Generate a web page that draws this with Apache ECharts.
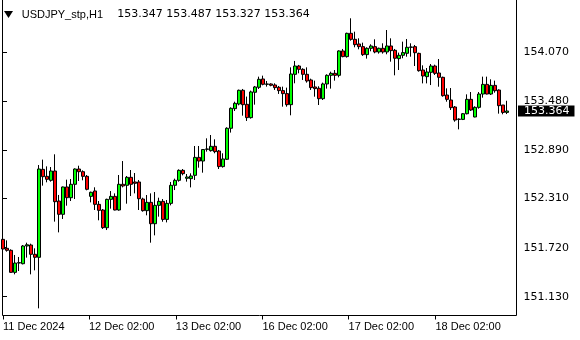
<!DOCTYPE html>
<html><head><meta charset="utf-8">
<script src="https://cdn.jsdelivr.net/npm/echarts@6/dist/echarts.min.js"></script>
<style>html,body{margin:0;padding:0;background:#fff}#c{width:580px;height:340px}</style>
</head><body><div id="c"></div>
<script>
const opens=[151.820,151.712,151.688,151.423,151.535,151.527,151.740,151.752,151.640,151.604,
152.662,152.578,152.530,152.642,152.281,152.121,152.450,152.321,152.482,152.666,
152.634,152.578,152.337,152.402,152.241,152.173,151.960,152.301,152.337,152.173,
152.482,152.470,152.566,152.510,152.510,152.305,152.165,152.265,152.008,152.229,
152.277,152.060,152.253,152.470,152.530,152.650,152.554,152.550,152.590,152.806,
152.762,152.903,152.887,152.939,152.883,152.695,152.783,153.156,153.392,153.448,
153.613,153.444,153.284,153.589,153.649,153.749,153.685,153.689,153.677,153.649,
153.609,153.573,153.440,153.805,153.905,153.865,153.805,153.737,153.653,153.637,
153.512,153.689,153.793,153.817,153.793,154.086,154.018,154.298,154.226,154.170,
154.138,154.042,154.118,154.138,154.074,154.118,154.074,154.146,154.094,153.994,
154.034,154.058,154.130,154.138,154.057,153.857,153.777,153.829,153.905,153.821,
153.769,153.556,153.496,153.412,153.263,153.263,153.331,153.504,153.292,153.408,
153.568,153.684,153.568,153.672,153.616,153.436,153.347];
const highs=[151.864,151.808,151.700,151.632,151.608,151.752,151.780,151.768,151.712,152.714,
152.779,152.698,152.690,152.843,152.354,152.455,152.538,152.546,152.674,152.706,
152.650,152.594,152.394,152.446,152.281,152.185,152.309,152.401,152.373,152.594,
152.762,152.582,152.654,152.618,152.534,152.321,152.353,152.373,152.389,152.321,
152.305,152.293,152.510,152.550,152.662,152.666,152.606,152.614,152.943,152.943,
152.903,153.035,153.075,153.023,152.895,152.855,153.168,153.408,153.476,153.621,
153.629,153.537,153.609,153.665,153.777,153.789,153.725,153.697,153.697,153.665,
153.657,153.645,153.889,153.966,153.918,153.878,153.889,153.753,153.729,153.661,
153.705,153.805,153.837,153.857,154.094,154.110,154.306,154.479,154.318,154.238,
154.186,154.130,154.166,154.226,154.126,154.178,154.338,154.238,154.110,154.066,
154.198,154.230,154.178,154.158,154.065,153.913,153.881,153.929,153.921,153.989,
153.777,153.636,153.640,153.424,153.275,153.339,153.564,153.592,153.420,153.592,
153.777,153.777,153.745,153.729,153.624,153.436,153.487];
const lows=[151.680,151.672,151.419,151.399,151.439,151.519,151.600,151.399,151.447,150.990,
152.466,152.506,152.514,152.033,151.904,152.065,152.225,152.281,152.305,152.522,
152.530,152.410,152.265,152.173,152.049,151.945,151.932,152.189,152.169,152.165,
152.445,152.249,152.341,152.373,152.173,152.153,152.109,151.780,151.868,152.093,
152.032,152.024,152.229,152.413,152.514,152.590,152.514,152.445,152.534,152.682,
152.622,152.875,152.875,152.855,152.666,152.683,152.775,153.104,153.364,153.432,
153.308,153.244,153.272,153.440,153.629,153.673,153.657,153.661,153.617,153.569,
153.416,153.416,153.312,153.697,153.817,153.737,153.705,153.617,153.536,153.436,
153.496,153.633,153.633,153.729,153.769,154.010,154.006,154.210,154.130,154.106,
154.026,153.994,154.082,154.058,154.054,154.054,154.046,153.957,153.793,153.857,
153.998,154.017,154.017,153.905,153.837,153.696,153.696,153.676,153.797,153.656,
153.536,153.476,153.376,153.235,153.143,153.255,153.323,153.364,153.288,153.392,
153.524,153.564,153.556,153.584,153.332,153.324,153.327];
const closes=[151.704,151.688,151.423,151.535,151.540,151.740,151.755,151.640,151.604,152.666,
152.574,152.542,152.642,152.273,152.121,152.450,152.321,152.482,152.666,152.634,
152.578,152.422,152.386,152.241,152.169,151.961,152.301,152.337,152.173,152.482,
152.462,152.566,152.482,152.494,152.309,152.165,152.265,152.008,152.229,152.277,
152.060,152.253,152.470,152.530,152.650,152.610,152.570,152.582,152.806,152.762,
152.900,152.907,152.939,152.875,152.695,152.787,153.156,153.396,153.456,153.613,
153.440,153.284,153.593,153.653,153.745,153.685,153.689,153.673,153.645,153.609,
153.573,153.440,153.809,153.905,153.865,153.805,153.725,153.645,153.633,153.512,
153.689,153.793,153.817,153.793,154.086,154.018,154.298,154.226,154.162,154.138,
154.042,154.118,154.146,154.074,154.118,154.074,154.146,154.090,153.998,154.034,
154.066,154.130,154.134,154.065,153.849,153.785,153.833,153.905,153.817,153.769,
153.548,153.504,153.404,153.255,153.266,153.331,153.504,153.376,153.408,153.568,
153.684,153.568,153.672,153.608,153.428,153.347,153.364];

const timeLabels=['11 Dec 2024','12 Dec 02:00','13 Dec 02:00','16 Dec 02:00','17 Dec 02:00','18 Dec 02:00'];
const timeTickPos=[0,21.5,43.2,64.85,86.4,108.1];
const priceTicks=[151.130,151.720,152.310,152.890,153.480,154.070];
const lastPrice=153.364;
const symbolText='USDJPY_stp,H1';
const ohlcText='153.347 153.487 153.327 153.364';

const bars=opens.map((o,i)=>[o,closes[i],lows[i],highs[i]]);
const cats=opens.map((_,i)=>i);
const yMin=150.904, yMax=154.699;

const chart=echarts.init(document.getElementById('c'),null,{renderer:'canvas'});
chart.setOption({
  animation:false,
  backgroundColor:'#fff',
  grid:{left:1,top:0,width:508,height:315.5,containLabel:false},
  xAxis:[
    {type:'category',data:cats,boundaryGap:true,axisLine:{show:false},axisTick:{show:false},axisLabel:{show:false},splitLine:{show:false}},
    {type:'value',min:-0.5,max:opens.length-0.5,position:'bottom',
     axisLine:{show:false},splitLine:{show:false},
     axisTick:{show:true,customValues:timeTickPos,length:4,lineStyle:{color:'#000',width:1}},
     axisLabel:{customValues:timeTickPos,align:'left',margin:5,color:'#000',fontFamily:'Liberation Sans',fontSize:11,lineHeight:12,
       formatter:function(v){let b=0,d=1e9;timeTickPos.forEach((p,k)=>{if(Math.abs(p-v)<d){d=Math.abs(p-v);b=k;}});return timeLabels[b];}}}
  ],
  yAxis:[
    {type:'value',position:'right',offset:7.5,min:yMin,max:yMax,
    axisLine:{show:false},splitLine:{show:false},
    axisTick:{show:true,customValues:priceTicks,length:4,lineStyle:{color:'#000',width:1}},
    axisLabel:{customValues:priceTicks,margin:7,color:'#000',fontFamily:'DejaVu Sans',fontSize:11,
      formatter:function(v){return v.toFixed(3);}}},
    {type:'value',position:'right',offset:7.5,min:yMin,max:yMax,
    axisLine:{show:false},splitLine:{show:false},axisTick:{show:false},
    axisLabel:{customValues:[lastPrice],margin:1.5,color:'#fff',backgroundColor:'#000',padding:[0,5,0,6],lineHeight:11,
      fontFamily:'DejaVu Sans',fontSize:11,formatter:function(v){return v.toFixed(3);}}}
  ],
  series:[{
    type:'candlestick',xAxisIndex:0,yAxisIndex:0,data:bars,barWidth:3,
    itemStyle:{color:'#00ff00',color0:'#ff0000',borderColor:'#000',borderColor0:'#000',borderWidth:1}
  }],
  graphic:[
    {type:'rect',shape:{x:2.5,y:-1,width:514,height:316.5},style:{fill:null,stroke:'#000',lineWidth:1},silent:true},
    {type:'rect',shape:{x:3,y:3,width:310,height:18},style:{fill:'#fff'},silent:true},
    {type:'polygon',shape:{points:[[4,11],[13,11],[8.5,18]]},style:{fill:'#000'},silent:true},
    {type:'text',x:21.7,y:14.5,style:{text:symbolText,fill:'#000',font:'11px "Liberation Sans"',textVerticalAlign:'middle'},silent:true},
    {type:'text',x:117.3,y:14.5,style:{text:ohlcText,fill:'#000',font:'11px "DejaVu Sans"',textVerticalAlign:'middle'},silent:true}
  ]
});
</script></body></html>
